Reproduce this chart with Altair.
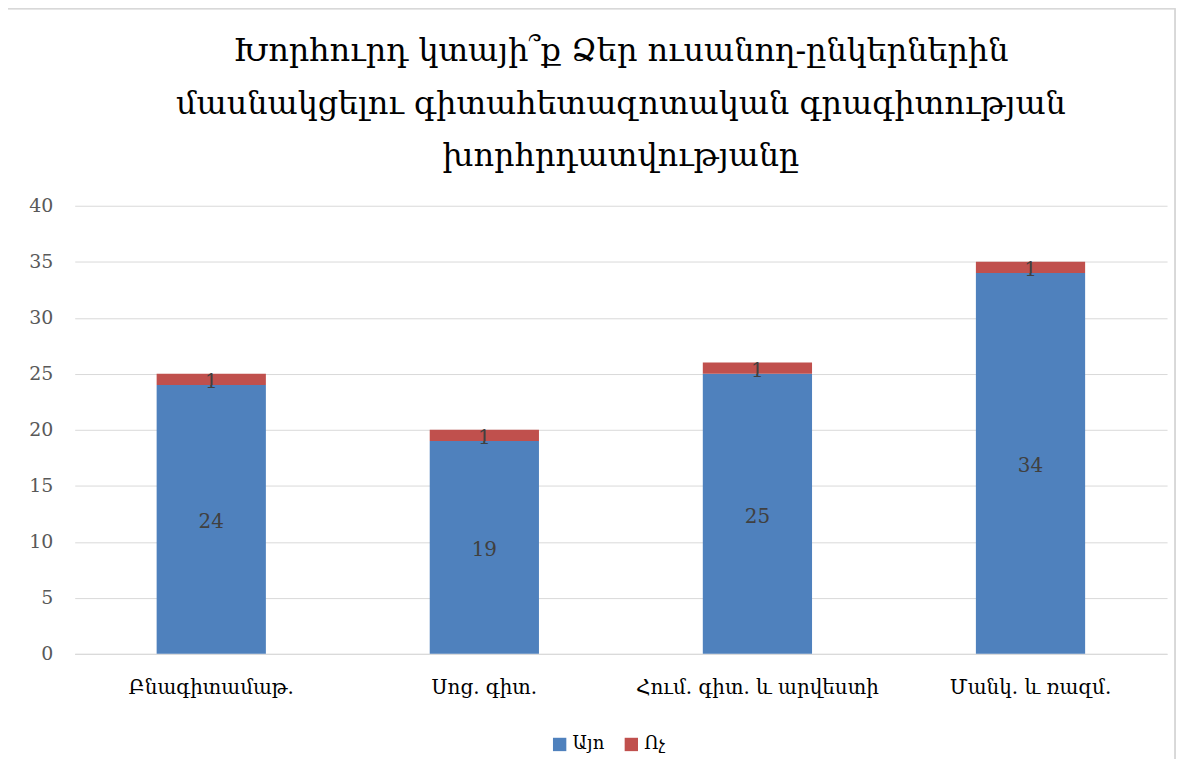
import altair as alt
import pandas as pd

categories = ["Բնագիտամաթ.", "Սոց. գիտ.", "Հում. գիտ. և արվեստի", "Մանկ. և ռազմ."]
yes_values = [24, 19, 25, 34]
no_values = [1, 1, 1, 1]
series = ["Այո", "Ոչ"]
colors = ["#4F81BD", "#C0504D"]
title_lines = [
    "Խորհուրդ կտայի՞ք Ձեր ուսանող-ընկերներին",
    "մասնակցելու գիտահետազոտական գրագիտության",
    "խորհրդատվությանը",
]

rows = []
for c, y, n in zip(categories, yes_values, no_values):
    rows.append({"cat": c, "series": series[0], "value": y, "ord": 0})
    rows.append({"cat": c, "series": series[1], "value": n, "ord": 1})
df = pd.DataFrame(rows)

FONT = "'DejaVu Serif', 'DejaVu Sans', serif"

base = alt.Chart(df).transform_stack(
    stack="value", groupby=["cat"], sort=[alt.SortField("ord")], as_=["y0", "y1"]
).transform_calculate(mid="(datum.y0 + datum.y1) / 2")

xenc = alt.X(
    "cat:N",
    sort=categories,
    title=None,
    scale=alt.Scale(paddingInner=0.6, paddingOuter=0.3),
    axis=alt.Axis(labelAngle=0, ticks=False, domainColor="#d9d9d9", labelFont=FONT,
                  labelFontSize=20, labelColor="#000000", labelPadding=24, labelLimit=400),
)

bars = base.mark_bar().encode(
    x=xenc,
    y=alt.Y("y0:Q", title=None, scale=alt.Scale(domain=[0, 40]),
            axis=alt.Axis(values=list(range(0, 41, 5)), ticks=False, domain=False,
                          gridColor="#d9d9d9", labelFont=FONT, labelFontSize=19,
                          labelColor="#595959", labelPadding=22)),
    y2="y1:Q",
    color=alt.Color("series:N", sort=series,
                    scale=alt.Scale(domain=series, range=colors),
                    legend=alt.Legend(title=None, orient="none", direction="horizontal",
                                      legendX=478, legendY=532, symbolType="square",
                                      symbolSize=180, labelFont=FONT, labelFontSize=18,
                                      labelColor="#000000", columnPadding=18)),
    order=alt.Order("ord:Q"),
)

labels = base.mark_text(font=FONT, fontSize=20, color="#404040", dy=3).encode(
    x=alt.X("cat:N", sort=categories),
    y=alt.Y("mid:Q"),
    text=alt.Text("value:Q"),
)

border = alt.Chart(df).mark_rect(fill=None, stroke="#d9d9d9", strokeWidth=1).encode(
    x=alt.value(-68), x2=alt.value(1105), y=alt.value(-198), y2=alt.value(566)
)

chart = alt.layer(bars, labels, border).properties(
    width=1097,
    height=450,
    autosize=alt.AutoSizeParams(type="none"),
    padding={"left": 67, "top": 197, "right": 12, "bottom": 104},
    title=alt.TitleParams(title_lines, anchor="middle", font=FONT, fontSize=32,
                          fontWeight="normal", color="#000000", lineHeight=53, offset=-166),
).configure_view(stroke=None)

chart.save("out.html", embed_options={"renderer": "svg", "actions": False})
